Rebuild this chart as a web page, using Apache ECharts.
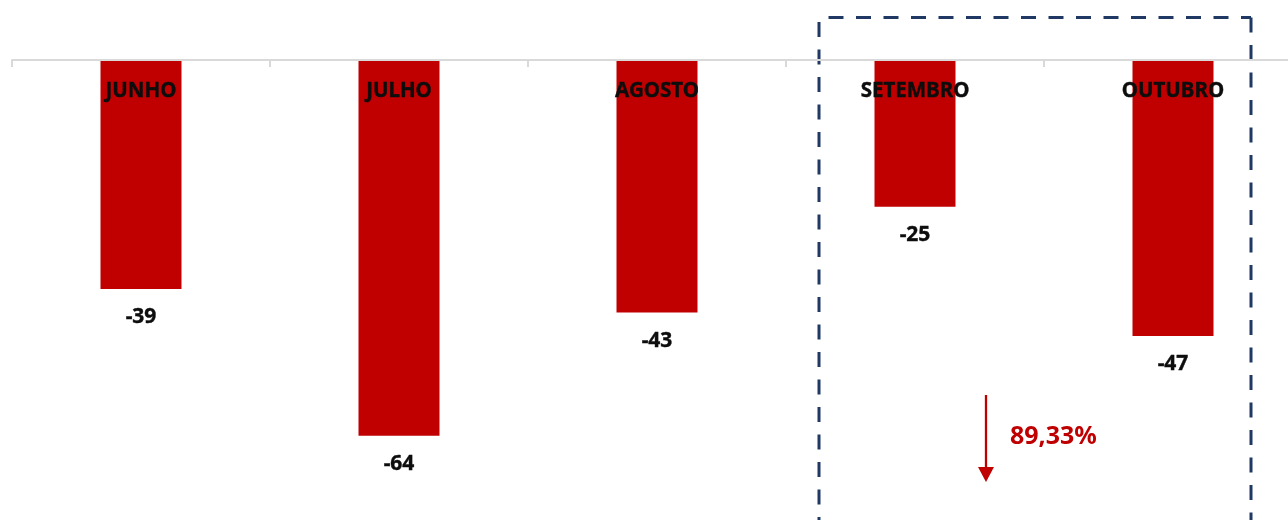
<!DOCTYPE html>
<html>
<head>
<meta charset="utf-8">
<script src="https://cdn.jsdelivr.net/npm/echarts@6/dist/echarts.min.js"></script>
<style>html,body{margin:0;padding:0;background:#fff;overflow:hidden}#c{width:1302px;height:520px}</style>
</head>
<body>
<div id="c"></div>
<script>
const categories = ['JUNHO', 'JULHO', 'AGOSTO', 'SETEMBRO', 'OUTUBRO'];
const values = [-39, -64, -43, -25, -47];
const changeLabel = '89,33%';

const FONT = '"Noto Sans", sans-serif';
const chart = echarts.init(document.getElementById('c'));
chart.setOption({
  animation: false,
  grid: { left: 12, right: 0, top: 60, bottom: 2, containLabel: false },
  xAxis: {
    type: 'category',
    data: categories,
    position: 'top',
    z: 10,
    axisLine: { show: true, lineStyle: { color: '#d9d9d9', width: 2 } },
    axisTick: { show: true, inside: true, length: 7, lineStyle: { color: '#d9d9d9', width: 2 } },
    axisLabel: { inside: true, margin: 20.5, color: '#0d0d0d', fontFamily: FONT, fontWeight: 'bold', fontSize: 20.5,
                 textBorderColor: '#0d0d0d', textBorderWidth: 0.4 },
    splitLine: { show: false }
  },
  yAxis: { type: 'value', min: -78, max: 0, show: false, splitLine: { show: false } },
  series: [{
    type: 'bar',
    data: values,
    barWidth: 81,
    itemStyle: { color: '#C00000' },
    label: { show: true, position: 'bottom', distance: 18, color: '#0d0d0d', fontFamily: FONT, fontWeight: 'bold', fontSize: 21,
             textBorderColor: '#0d0d0d', textBorderWidth: 0.4 }
  }]
});

// annotation box around the last two months, arrow and change label
const pSet = chart.convertToPixel({ xAxisIndex: 0, yAxisIndex: 0 }, [3, 0]);
const pOut = chart.convertToPixel({ xAxisIndex: 0, yAxisIndex: 0 }, [4, 0]);
const L = pSet[0] - 96, R = pOut[0] + 78, T = 17.5, B = 540;
const ax = pSet[0] + 71;
const dash = [15, 12.5];
const boxStyle = (off) => ({ stroke: '#1F3864', lineWidth: 3, lineDash: dash, lineDashOffset: off, fill: null });
chart.setOption({
  graphic: [
    { type: 'line', shape: { x1: L, y1: T, x2: R, y2: T }, style: boxStyle(18) },
    { type: 'line', shape: { x1: L, y1: T, x2: L, y2: B }, style: boxStyle(23) },
    { type: 'line', shape: { x1: R, y1: T, x2: R, y2: B }, style: boxStyle(0) },
    { type: 'line', shape: { x1: ax, y1: 395, x2: ax, y2: 470 }, style: { stroke: '#C00000', lineWidth: 2.3 } },
    { type: 'polygon', shape: { points: [[ax - 8, 467], [ax + 8, 467], [ax, 482]] }, style: { fill: '#C00000' } },
    { type: 'text', x: ax + 24, y: 437, style: { text: changeLabel, fill: '#C00000', font: 'bold 25px ' + FONT, textVerticalAlign: 'middle', verticalAlign: 'middle' } }
  ]
});
</script>
</body>
</html>
